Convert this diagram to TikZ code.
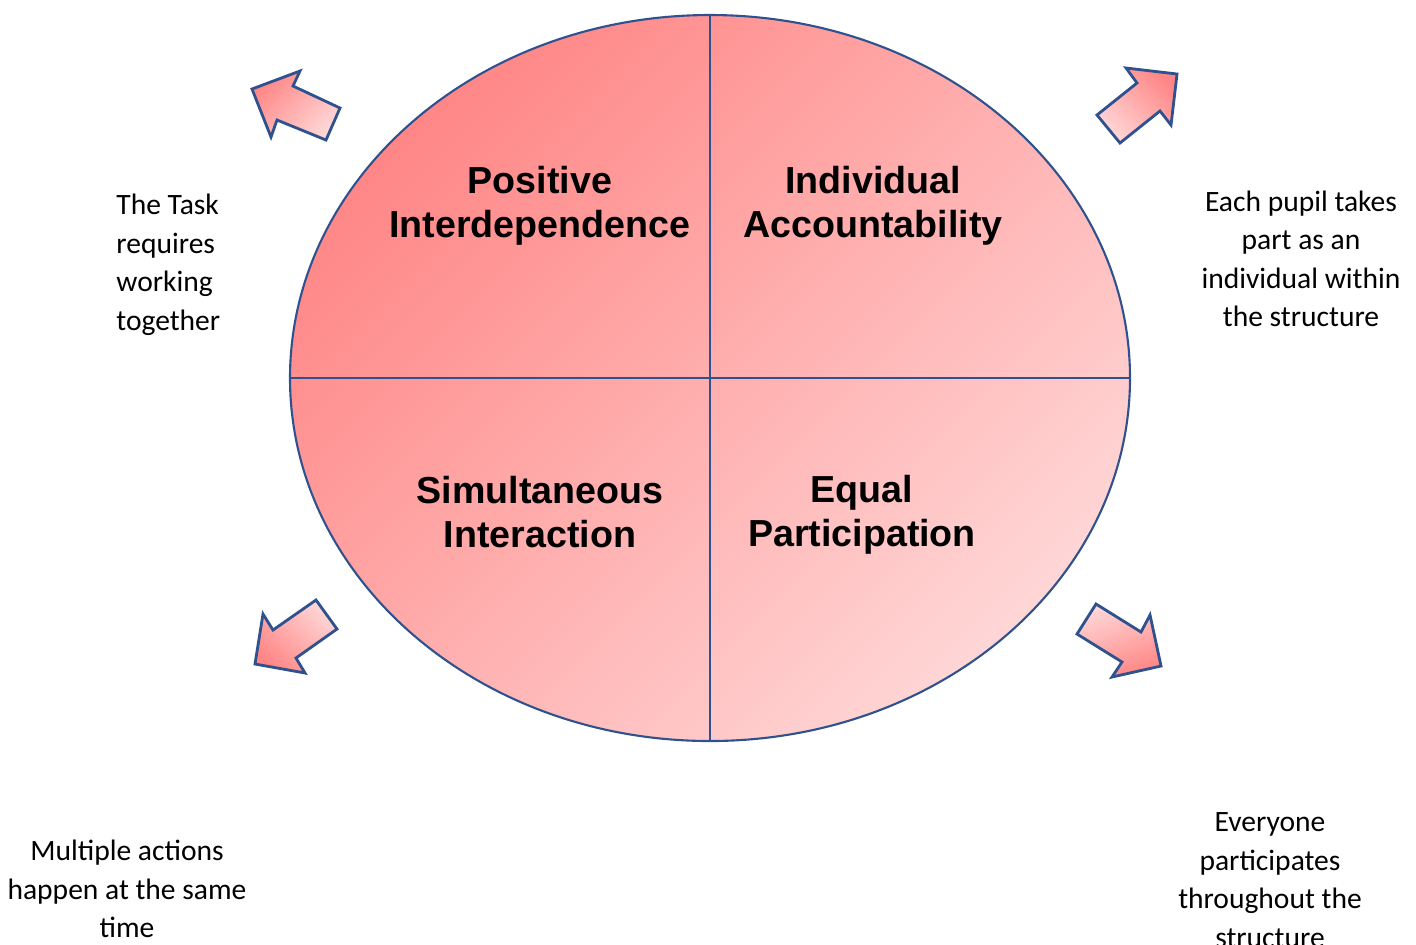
\documentclass[tikz,border=0pt]{standalone}
\usepackage{fontspec}
\setmainfont{Carlito}
\newfontfamily\headfont{Liberation Sans}
\usetikzlibrary{positioning}
\definecolor{rimblue}{RGB}{47,82,143}
\definecolor{pinkdark}{RGB}{255,134,134}
\definecolor{pinklight}{RGB}{255,214,214}
\tikzset{
  quarter/.style={font=\headfont\bfseries\fontsize{10.7}{12.5}\selectfont, align=center},
  note/.style={font=\fontsize{8.4}{10.95}\selectfont, align=center},
  blockarrow/.style={draw=rimblue, line width=0.8pt, line join=miter,
    top color=pinkdark, bottom color=pinklight}
}

\begin{document}
\begin{tikzpicture}[x=0.01cm,y=-0.01cm]
\useasboundingbox (0,0) rectangle (1416,944);
\clip (0,0) rectangle (1416,944);
% the big disc
\coordinate (O) at (710,378);
\coordinate (N) at (710,15);
\coordinate (S) at (710,741);
\coordinate (W) at (290,378);
\coordinate (E) at (1130,378);
\path[draw=rimblue, line width=0.6pt, top color=pinkdark, bottom color=pinklight, shading angle=45]
  (O) ellipse [x radius=420, y radius=363];
\draw[rimblue, line width=0.6pt] (N) -- (S) (W) -- (E);
% quarters
\node[quarter] (posint) at (540,206) {Positive\\Interdependence};
\node[quarter] (indacc) at (873,206) {Individual\\Accountability};
\node[quarter] (simint) at (540,512) {Simultaneous\\Interaction};
\node[quarter] (eqpart) at (862,515) {Equal\\Participation};
% arrows
\draw[blockarrow, shading angle=45] (252,89) -- (300,71) -- (293,86) -- (340,108) -- (326,140) -- (277,120) -- (271,137) -- cycle;
\draw[blockarrow, shading angle=-45] (1177,74) -- (1126,68) -- (1137,83) -- (1097,115) -- (1120,143) -- (1160,111) -- (1171,125) -- cycle;
\draw[blockarrow, shading angle=135] (255,664) -- (263,614) -- (273,630) -- (316,600) -- (337,629) -- (296,658) -- (305,673) -- cycle;
\draw[blockarrow, shading angle=200] (1161,666) -- (1150,615) -- (1141,632) -- (1096,604) -- (1077,634) -- (1122,662) -- (1112,677) -- cycle;
% notes
\node[note, align=left, anchor=west] (tasknote) at (104,265) {The Task\\requires\\working\\together};
\node[note] (pupilnote) at (1301,259) {Each pupil takes\\part as an\\individual within\\the structure};
\node[note] (multinote) at (127,889) {Multiple actions\\happen at the same\\time};
\node[note] (everynote) at (1270,880) {Everyone\\participates\\throughout the\\structure};
\end{tikzpicture}
\end{document}
